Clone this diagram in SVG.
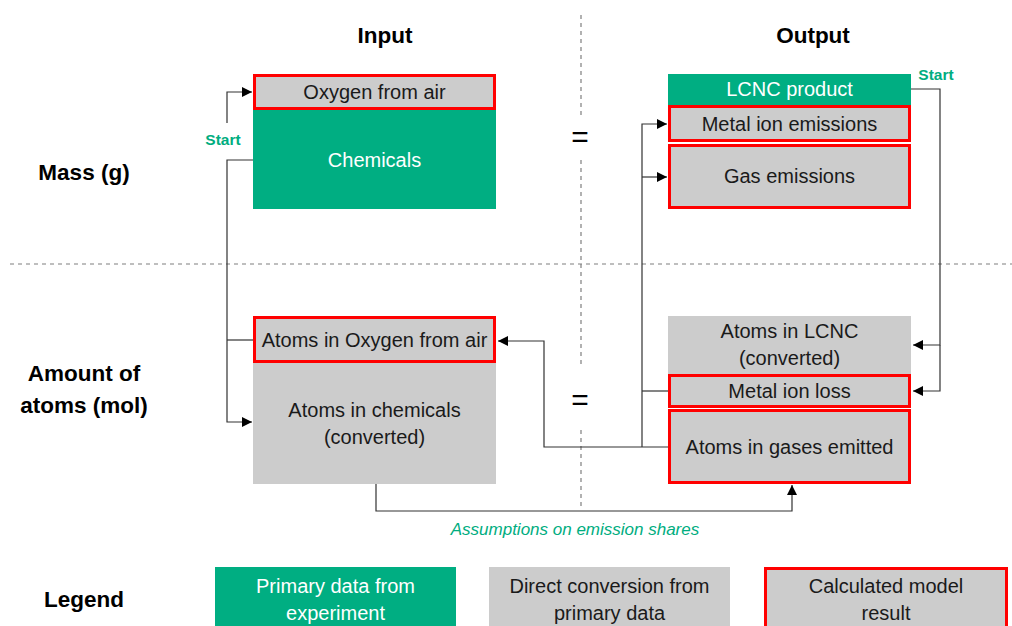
<svg xmlns="http://www.w3.org/2000/svg" width="1012" height="626" viewBox="0 0 1012 626">
  <defs>
    <style>
      .t { font-family: "Liberation Sans", Arial, sans-serif; font-size: 20px; fill: #1a1a1a; text-anchor: middle; }
      .tw { fill: #ffffff; }
      .h { font-family: "Liberation Sans", Arial, sans-serif; font-size: 22.5px; font-weight: bold; fill: #000; text-anchor: middle; }
      .start { font-family: "Liberation Sans", Arial, sans-serif; font-size: 15.5px; font-weight: bold; fill: #00ad80; text-anchor: middle; }
      .note { font-family: "Liberation Sans", Arial, sans-serif; font-size: 17px; font-style: italic; fill: #00ad80; text-anchor: middle; }
      .eq { font-family: "Liberation Sans", Arial, sans-serif; font-size: 30px; fill: #000; text-anchor: middle; }
      .green { fill: #00ae82; }
      .grey { fill: #cccccc; }
      .calc { fill: #cccccc; stroke: #ff0000; stroke-width: 3; }
      .dash { stroke: #7f7f7f; stroke-width: 1.2; stroke-dasharray: 4 4; fill: none; }
      .conn { stroke: #333333; stroke-width: 1.2; fill: none; }
    </style>
    <marker id="arr" viewBox="0 0 10 10" refX="10" refY="5" markerWidth="10" markerHeight="10" markerUnits="userSpaceOnUse" orient="auto">
      <path d="M0,0 L10,5 L0,10 z" fill="#000"/>
    </marker>
  </defs>

  <!-- section dividers -->
  <g id="dividers">
    <line class="dash" x1="581" y1="15" x2="581" y2="115"/>
    <line class="dash" x1="581" y1="160" x2="581" y2="365"/>
    <line class="dash" x1="581" y1="430" x2="581" y2="510"/>
    <line class="dash" x1="10" y1="264" x2="1012" y2="264"/>
  </g>

  <!-- row and column headings -->
  <g id="headings">
    <text class="h" x="385" y="43">Input</text>
    <text class="h" x="813" y="43">Output</text>
    <text class="h" x="84" y="180">Mass (g)</text>
    <text class="h" x="84" y="381">Amount of</text>
    <text class="h" x="84" y="413">atoms (mol)</text>
    <text class="h" x="84" y="607">Legend</text>
    <text class="eq" x="580" y="147">=</text>
    <text class="eq" x="580" y="410">=</text>
  </g>

  <!-- connectors -->
  <g id="connectors">
    <!-- start on the input side -->
    <polyline class="conn" points="257,160 227,160 227,422 252,422" marker-end="url(#arr)"/>
    <line class="conn" x1="227" y1="340" x2="255" y2="340"/>
    <polyline class="conn" points="227,123 227,92 252,92" marker-end="url(#arr)"/>
    <!-- start on the output side -->
    <polyline class="conn" points="911,89 940,89 940,345 913,345" marker-end="url(#arr)"/>
    <polyline class="conn" points="940,345 940,391 913,391" marker-end="url(#arr)"/>
    <!-- emissions feedback -->
    <polyline class="conn" points="668,447 544,447 544,341 498,341" marker-end="url(#arr)"/>
    <polyline class="conn" points="642,447 642,124 667,124" marker-end="url(#arr)"/>
    <line class="conn" x1="642" y1="177" x2="667" y2="177" marker-end="url(#arr)"/>
    <line class="conn" x1="642" y1="391" x2="668" y2="391"/>
    <!-- assumptions link -->
    <polyline class="conn" points="376,484 376,511 792,511 792,485" marker-end="url(#arr)"/>
    <text class="start" x="223" y="145">Start</text>
    <text class="start" x="936" y="80">Start</text>
    <text class="note" x="575" y="535">Assumptions on emission shares</text>
  </g>

  <!-- input, mass -->
  <g id="chemicals">
    <rect class="green" x="253" y="108" width="243" height="101"/>
    <text class="t tw" x="374.5" y="167">Chemicals</text>
  </g>
  <g id="oxygen-from-air">
    <rect class="calc" x="254.5" y="75.5" width="240" height="33"/>
    <text class="t" x="374.5" y="99">Oxygen from air</text>
  </g>

  <!-- output, mass -->
  <g id="lcnc-product">
    <rect class="green" x="668" y="74" width="243" height="32"/>
    <text class="t tw" x="789.5" y="96">LCNC product</text>
  </g>
  <g id="metal-ion-emissions">
    <rect class="calc" x="669.5" y="106.5" width="240" height="34"/>
    <text class="t" x="789.5" y="131">Metal ion emissions</text>
  </g>
  <g id="gas-emissions">
    <rect class="calc" x="669.5" y="145.5" width="240" height="62"/>
    <text class="t" x="789.5" y="183">Gas emissions</text>
  </g>

  <!-- input, atoms -->
  <g id="atoms-in-chemicals">
    <rect class="grey" x="253" y="362" width="243" height="122"/>
    <text class="t" x="374.5" y="417">Atoms in chemicals</text>
    <text class="t" x="374.5" y="444">(converted)</text>
  </g>
  <g id="atoms-in-oxygen">
    <rect class="calc" x="254.5" y="317.5" width="240" height="44"/>
    <text class="t" x="374.5" y="347">Atoms in Oxygen from air</text>
  </g>

  <!-- output, atoms -->
  <g id="atoms-in-lcnc">
    <rect class="grey" x="668" y="316" width="243" height="60"/>
    <text class="t" x="789.5" y="338">Atoms in LCNC</text>
    <text class="t" x="789.5" y="365">(converted)</text>
  </g>
  <g id="metal-ion-loss">
    <rect class="calc" x="669.5" y="375.5" width="240" height="31"/>
    <text class="t" x="789.5" y="398">Metal ion loss</text>
  </g>
  <g id="atoms-in-gases">
    <rect class="calc" x="669.5" y="410.5" width="240" height="72"/>
    <text class="t" x="789.5" y="454">Atoms in gases emitted</text>
  </g>

  <!-- legend -->
  <g id="legend-primary">
    <rect class="green" x="215" y="567" width="241" height="70"/>
    <text class="t tw" x="335.5" y="593">Primary data from</text>
    <text class="t tw" x="335.5" y="620">experiment</text>
  </g>
  <g id="legend-direct">
    <rect class="grey" x="489" y="567" width="241" height="70"/>
    <text class="t" x="609.5" y="593">Direct conversion from</text>
    <text class="t" x="609.5" y="620">primary data</text>
  </g>
  <g id="legend-calculated">
    <rect class="calc" x="765.5" y="568.5" width="241" height="70"/>
    <text class="t" x="886" y="593">Calculated model</text>
    <text class="t" x="886" y="620">result</text>
  </g>
</svg>
